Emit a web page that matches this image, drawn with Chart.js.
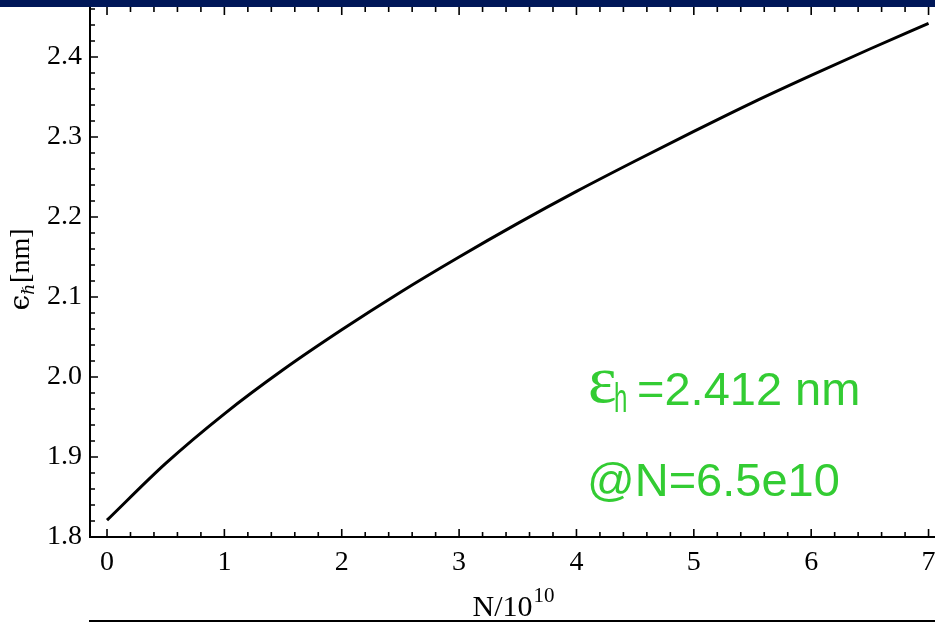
<!DOCTYPE html>
<html>
<head>
<meta charset="utf-8">
<script src="https://cdn.jsdelivr.net/npm/chart.js@4"></script>
<style>
  html, body { margin: 0; padding: 0; background: #fff; overflow: hidden; }
  #wrap { width: 935px; height: 622px; position: relative; }
</style>
</head>
<body>
<div id="wrap"><canvas id="chart"></canvas></div>
<script>
// N in units of 1e10, horizontal emittance in nm
const nValues = [0, 0.5, 1, 1.5, 2, 2.5, 3, 3.5, 4, 4.5, 5, 5.5, 6, 6.5, 7];
const epsValues = [1.821, 1.892, 1.954, 2.009, 2.059, 2.106, 2.150, 2.192, 2.232, 2.270, 2.307, 2.343, 2.377, 2.410, 2.442];
const xTicks = [0, 1, 2, 3, 4, 5, 6, 7];
const yTicks = [1.8, 1.9, 2.0, 2.1, 2.2, 2.3, 2.4];
const noteLine1 = "=2.412 nm";
const noteLine2 = "@N=6.5e10";

const GREEN = "#33cc33";

// mathematica-like frame: inward ticks on bottom/top/left, minor every 1/5
const framePlugin = {
  id: "frame",
  afterDraw(chart) {
    const ctx = chart.ctx;
    const { left, right, top, bottom } = chart.chartArea;
    const xs = chart.scales.x, ys = chart.scales.y;
    ctx.save();
    ctx.strokeStyle = "#000";
    ctx.lineWidth = 1.6;
    ctx.beginPath();
    for (let i = 0; i <= 35; i++) {
      const v = i / 5;
      const px = xs.getPixelForValue(v);
      const len = i % 5 === 0 ? 8 : 5;
      ctx.moveTo(px, bottom); ctx.lineTo(px, bottom - len);
      ctx.moveTo(px, top); ctx.lineTo(px, top + len);
    }
    for (let i = 0; i <= 33; i++) {
      const v = 1.8 + i * 0.02;
      const py = ys.getPixelForValue(v);
      if (py < top) break;
      const len = i % 5 === 0 ? 8 : 5;
      ctx.moveTo(left, py); ctx.lineTo(left + len, py);
    }
    ctx.stroke();

    // left + bottom frame
    ctx.lineWidth = 2;
    ctx.beginPath();
    ctx.moveTo(left, top); ctx.lineTo(left, bottom); ctx.lineTo(right, bottom);
    ctx.stroke();

    // slide decorations: navy bar on top, rule at the bottom
    ctx.fillStyle = "#001758";
    ctx.fillRect(0, 0, chart.width, 7);
    ctx.fillStyle = "#000";
    ctx.fillRect(89, 620, chart.width - 89, 2);

    // x axis title N/10^10
    ctx.fillStyle = "#000";
    ctx.textBaseline = "alphabetic";
    ctx.textAlign = "left";
    const main = "N/10";
    ctx.font = "30px 'Liberation Serif'";
    const wMain = ctx.measureText(main).width;
    ctx.font = "21px 'Liberation Serif'";
    const wSup = ctx.measureText("10").width;
    const x0 = 513 - (wMain + wSup) / 2;
    ctx.font = "30px 'Liberation Serif'";
    ctx.fillText(main, x0, 616);
    ctx.font = "21px 'Liberation Serif'";
    ctx.fillText("10", x0 + wMain + 1, 602);

    // y axis title, rotated
    ctx.save();
    ctx.translate(29, 270);
    ctx.rotate(-Math.PI / 2);
    ctx.font = "28px 'DejaVu Serif'";
    const eps = "\u03F5";
    const wEps = ctx.measureText(eps).width;
    ctx.font = "17px 'DejaVu Serif'";
    const hb = "\u210F";
    const wHb = ctx.measureText(hb).width;
    ctx.font = "28px 'Liberation Serif'";
    const nm = "[nm]";
    const wNm = ctx.measureText(nm).width;
    const sx = -(wEps + wHb + wNm) / 2;
    ctx.font = "28px 'DejaVu Serif'";
    ctx.fillText(eps, sx, 0);
    ctx.font = "17px 'DejaVu Serif'";
    ctx.fillText(hb, sx + wEps, 5);
    ctx.font = "28px 'Liberation Serif'";
    ctx.fillText(nm, sx + wEps + wHb + 1, 0);
    ctx.restore();

    // green annotation
    ctx.fillStyle = GREEN;
    ctx.font = "68px 'Liberation Serif'";
    ctx.fillText("\u03B5", 588, 402);
    ctx.save();
    ctx.font = "40px 'Liberation Sans'";
    ctx.translate(614, 412);
    ctx.scale(0.6, 1);
    ctx.fillText("h", 0, 0);
    ctx.restore();
    ctx.font = "47px 'Liberation Sans'";
    ctx.fillText(noteLine1, 637, 405);
    ctx.fillText(noteLine2, 587, 496);
    ctx.restore();
  }
};

function noPad(scale) {
  scale.paddingLeft = 0;
  scale.paddingRight = 0;
  scale.paddingTop = 0;
  scale.paddingBottom = 0;
}

new Chart(document.getElementById("chart"), {
  type: "line",
  data: {
    datasets: [{
      data: nValues.map((n, i) => ({ x: n, y: epsValues[i] })),
      borderColor: "#000",
      borderWidth: 3,
      pointRadius: 0,
      cubicInterpolationMode: "monotone",
      fill: false
    }]
  },
  options: {
    responsive: true,
    maintainAspectRatio: false,
    animation: false,
    layout: { padding: { top: 7, right: 0, left: 0, bottom: 0 } },
    plugins: { legend: { display: false }, tooltip: { enabled: false } },
    scales: {
      x: {
        type: "linear",
        min: -0.145,
        max: 7.055,
        afterBuildTicks(scale) { scale.ticks = xTicks.map(v => ({ value: v })); },
        afterFit(scale) { scale.height = 85; noPad(scale); },
        grid: { display: false, drawTicks: false },
        border: { display: false },
        ticks: {
          padding: 9,
          maxRotation: 0,
          color: "#000",
          font: { family: "'Liberation Serif'", size: 28 },
          callback: v => String(v)
        }
      },
      y: {
        min: 1.8,
        max: 2.4625,
        afterBuildTicks(scale) { scale.ticks = yTicks.map(v => ({ value: v })); },
        afterFit(scale) { scale.width = 90; noPad(scale); },
        grid: { display: false, drawTicks: false },
        border: { display: false },
        ticks: {
          padding: 8,
          color: "#000",
          font: { family: "'Liberation Serif'", size: 28 },
          callback: v => v.toFixed(1)
        }
      }
    }
  },
  plugins: [framePlugin]
});
</script>
</body>
</html>
